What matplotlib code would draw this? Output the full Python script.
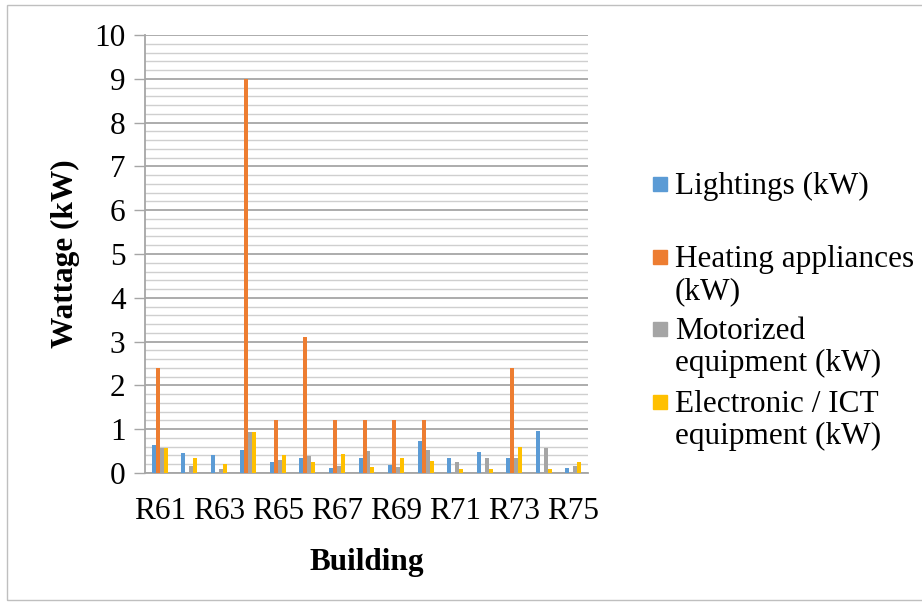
import matplotlib.pyplot as plt
import numpy as np
from matplotlib.patches import Rectangle
from matplotlib.ticker import MultipleLocator

buildings = ['R61', 'R62', 'R63', 'R64', 'R65', 'R66', 'R67', 'R68',
             'R69', 'R70', 'R71', 'R72', 'R73', 'R74', 'R75']
lightings = [0.63, 0.45, 0.42, 0.53, 0.24, 0.35, 0.12, 0.35,
             0.19, 0.72, 0.35, 0.47, 0.35, 0.95, 0.12]
heating = [2.4, 0, 0, 9.0, 1.2, 3.1, 1.2, 1.2,
           1.2, 1.2, 0, 0, 2.4, 0, 0]
motorized = [0.56, 0.16, 0.1, 0.93, 0.3, 0.38, 0.15, 0.5,
             0.13, 0.52, 0.24, 0.34, 0.34, 0.56, 0.15]
electronic = [0.56, 0.35, 0.2, 0.93, 0.41, 0.26, 0.43, 0.13,
              0.34, 0.28, 0.09, 0.1, 0.6, 0.09, 0.24]

series_names = ['Lightings (kW)', 'Heating appliances\n(kW)',
                'Motorized\nequipment (kW)', 'Electronic / ICT\nequipment (kW)']
colors = ['#5B9BD5', '#ED7D31', '#A5A5A5', '#FFC000']

plt.rcParams.update({
    'font.family': 'Liberation Serif',
    'font.size': 22.5,
})

fig = plt.figure(figsize=(9.22, 6.05), dpi=100)
ax = fig.add_axes([145 / 922, 1 - 473 / 605, 443 / 922, 438 / 605])

x = np.arange(len(buildings))
w = 0.135
data = [lightings, heating, motorized, electronic]
for i, (vals, c) in enumerate(zip(data, colors)):
    ax.bar(x + (i - 1.5) * w, vals, width=w, color=c, zorder=3)

ax.set_xlim(-0.5, len(buildings) - 0.5)
ax.set_ylim(0, 10)
ax.yaxis.set_major_locator(MultipleLocator(1))
ax.yaxis.set_minor_locator(MultipleLocator(0.2))
ax.grid(which='major', axis='y', color='#a6a6a6', linewidth=1.3, zorder=0)
ax.grid(which='minor', axis='y', color='#cfcfcf', linewidth=1.0, zorder=0)
ax.set_axisbelow(True)

ax.set_xticks(x[::2])
ax.set_xticklabels(buildings[::2])
ax.tick_params(axis='x', length=0, pad=17)
ax.tick_params(axis='y', which='major', length=8, width=1, color='#a6a6a6', pad=6)
ax.tick_params(axis='y', which='minor', length=0)

for side in ['top', 'right']:
    ax.spines[side].set_visible(False)
for side in ['left', 'bottom']:
    ax.spines[side].set_color('#a6a6a6')
    ax.spines[side].set_linewidth(1.3)

ax.set_xlabel('Building', fontweight='bold', labelpad=16)
ax.set_ylabel('Wattage (kW)', fontweight='bold', labelpad=10)

# legend drawn by hand: two-line slots per entry
leg_x = 653 / 922
sq = 14
for i, (name, c) in enumerate(zip(series_names, colors)):
    y_line = 1 - (184 + i * 72.5) / 605
    fig.patches.append(Rectangle((leg_x, y_line - sq / 2 / 605), sq / 922, sq / 605,
                                 transform=fig.transFigure, color=c))
    fig.text(675 / 922, y_line + 12 / 605, name, va='top', ha='left',
             linespacing=1.15)

# chart area border
fig.patches.append(Rectangle((7 / 922, 5 / 605), 920 / 922, 595 / 605,
                             transform=fig.transFigure, fill=False,
                             edgecolor='#bfbfbf', linewidth=1))

fig.savefig('out.png', dpi=100)
